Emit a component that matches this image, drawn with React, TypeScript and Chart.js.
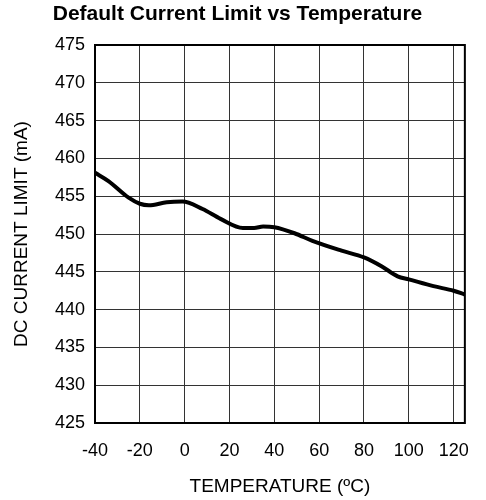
import React, { useEffect, useRef } from "react";
import { Chart, registerables } from "chart.js";

Chart.register(...registerables);

const temperatures = [-40, -34, -25, -20, -16, -8, -1, 8, 16, 26, 31, 35, 40, 49, 57, 70, 80, 88, 95, 100, 111, 120, 125];
const currentLimit = [458.1, 457.0, 454.8, 454.0, 453.8, 454.2, 454.3, 453.3, 452.0, 450.8, 450.8, 451.0, 450.9, 450.1, 449.1, 447.8, 446.9, 445.7, 444.4, 444.0, 443.1, 442.5, 442.0];
const xTicks = [-40, -20, 0, 20, 40, 60, 80, 100, 120];
const yTicks = [425, 430, 435, 440, 445, 450, 455, 460, 465, 470, 475];

const FONT = "'Liberation Sans', Arial, sans-serif";

const frame = {
  id: "frame",
  afterDraw(chart: any) {
    const { ctx, chartArea } = chart;
    ctx.save();
    ctx.strokeStyle = "#000";
    ctx.lineWidth = 2;
    ctx.strokeRect(chartArea.left, chartArea.top, chartArea.right - chartArea.left, chartArea.bottom - chartArea.top);
    ctx.restore();
  },
};

export default function App() {
  const ref = useRef<HTMLCanvasElement | null>(null);
  useEffect(() => {
    if (!ref.current) return;
    const chart = new Chart(ref.current, {
      type: "line",
      data: {
        datasets: [
          {
            data: temperatures.map((t, i) => ({ x: t, y: currentLimit[i] })),
            borderColor: "#000",
            borderWidth: 4,
            pointRadius: 0,
            cubicInterpolationMode: "monotone",
            fill: false,
          },
        ],
      },
      options: {
        animation: false,
        responsive: false,
        layout: { padding: { left: 0, right: 11, top: 0, bottom: 0 } },
        plugins: {
          legend: { display: false },
          tooltip: { enabled: false },
          title: {
            display: true,
            text: "Default Current Limit vs Temperature",
            color: "#000",
            font: { family: FONT, size: 21, weight: "bold" },
            padding: { top: 1.4, bottom: 18.4 },
          },
        },
        scales: {
          x: {
            type: "linear",
            min: -40,
            max: 125,
            afterBuildTicks: (s: any) => {
              s.ticks = xTicks.map((v) => ({ value: v }));
            },
            afterFit: (s: any) => {
              s.height = 77;
            },
            grid: { color: "#333", lineWidth: 1, drawTicks: false },
            border: { display: false },
            ticks: { color: "#000", font: { family: FONT, size: 18 }, padding: 17, maxRotation: 0, autoSkip: false },
            title: {
              display: true,
              text: "TEMPERATURE (ºC)",
              color: "#000",
              font: { family: FONT, size: 19 },
              padding: { top: 0, bottom: 1.6 },
            },
          },
          y: {
            min: 425,
            max: 475,
            afterBuildTicks: (s: any) => {
              s.ticks = yTicks.map((v) => ({ value: v }));
            },
            afterFit: (s: any) => {
              s.width = 95;
            },
            grid: { color: "#333", lineWidth: 1, drawTicks: false },
            border: { display: false },
            ticks: { color: "#000", font: { family: FONT, size: 18 }, padding: 10, autoSkip: false },
            title: {
              display: true,
              text: "DC CURRENT LIMIT (mA)",
              color: "#000",
              font: { family: FONT, size: 19 },
              padding: { top: 10, bottom: 0 },
            },
          },
        },
      },
      plugins: [frame],
    } as any);
    return () => chart.destroy();
  }, []);
  return (
    <div style={{ position: "absolute", left: 0, top: 0, width: 486, height: 500, background: "#fff" }}>
      <canvas ref={ref} width={486} height={500} />
    </div>
  );
}
